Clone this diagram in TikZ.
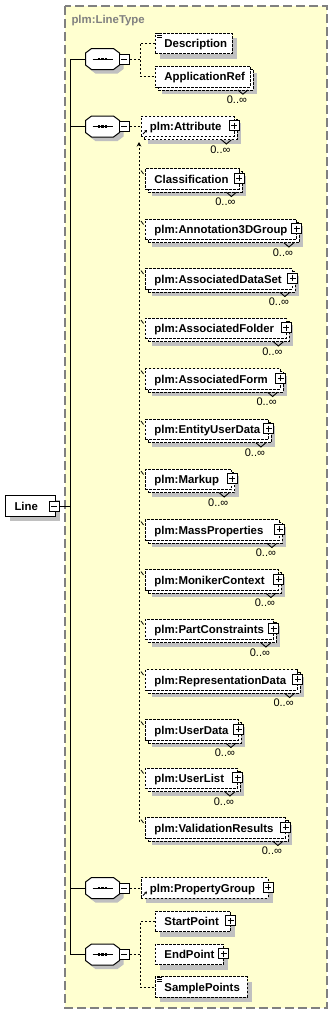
\documentclass[tikz,border=0pt]{standalone}
\usepackage{fontspec}
\setmainfont{Liberation Sans}
\usetikzlibrary{shadows,arrows.meta,calc}
\definecolor{bgyellow}{RGB}{255,255,208}
\definecolor{shadowgrey}{RGB}{192,192,192}
\definecolor{framegrey}{RGB}{128,128,128}
\newcommand\elfont{\fontsize{11.4bp}{13bp}\selectfont\bfseries}
\newcommand\multfont{\fontsize{11bp}{13bp}\selectfont}
\newcommand\eltext[2]{\makebox[#1bp][l]{\hspace{9bp}#2}}
\begin{document}
\begin{tikzpicture}[x=1bp,y=-1bp,line width=1bp,
  el/.style={draw=black, fill=white, line width=0.9bp, dash pattern=on 2.5bp off 1.5bp,
    minimum height=20.5bp, inner sep=0, anchor=west, font=\elfont, text height=8.2bp, text depth=0bp},
  single/.style={el, drop shadow={shadow xshift=5bp, shadow yshift=-5bp, fill=shadowgrey, opacity=1, draw=none}},
  multi/.style={el, drop shadow={shadow xshift=7bp, shadow yshift=-7bp, fill=shadowgrey, opacity=1, draw=none},
    copy shadow={shadow xshift=3bp, shadow yshift=-3bp, draw=black, fill=white, opacity=1, line width=0.9bp, dash pattern=on 2.5bp off 1.5bp}},
  linebox/.style={draw=black, fill=white, line width=1bp, solid, minimum height=21bp, inner sep=0, anchor=west,
    font=\elfont, text height=8.2bp, text depth=0bp,
    drop shadow={shadow xshift=4bp, shadow yshift=-4bp, fill=shadowgrey, opacity=1, draw=none}},
  plusbox/.style={draw=black, solid, fill=white, minimum size=10bp, inner sep=0, line width=0.9bp,
    path picture={\draw[solid,line width=0.9bp] ([yshift=-2bp]path picture bounding box.north) -- ([yshift=2bp]path picture bounding box.south)
      ([xshift=2bp]path picture bounding box.west) -- ([xshift=-2bp]path picture bounding box.east);}},
  minusbox/.style={draw=black, solid, fill=white, minimum size=10bp, inner sep=0, line width=0.9bp,
    path picture={\draw[solid,line width=0.9bp] ([xshift=2bp]path picture bounding box.west) -- ([xshift=-2bp]path picture bounding box.east);}},
  comp/.style={minimum width=33bp, minimum height=20bp, inner sep=0},
  mult/.style={font=\multfont, inner sep=0, text height=7.8bp, text depth=0bp},
  conn/.style={line width=0.9bp, dash pattern=on 2bp off 2bp},
  spineline/.style={line width=1bp, solid},
  notchline/.style={solid, line width=0.9bp},
  tickline/.style={solid, line width=0.8bp},
  iconline/.style={solid, line width=0.8bp}
]
\useasboundingbox (0,0) rectangle (333,1015);
% type box
\path[fill=bgyellow, draw=framegrey, line width=1.2bp, dash pattern=on 9bp off 4bp] (65,6) rectangle (327,1008);
\node[anchor=west, font=\elfont, text=framegrey, inner sep=0, text height=8.2bp, text depth=0bp] (ttl) at (71,19) {plm:LineType};

% root element
\node[linebox] (line) at (5,506) {\eltext{50}{Line}};
\node[minusbox] (lm) at (54,506) {};

% compositors
\node[comp] (s1) at (102.5,59) {};
\node[comp] (s2) at (102.5,126.5) {};
\node[comp] (s3) at (102.5,888) {};
\node[comp] (s4) at (102.5,954.5) {};
\foreach \s in {s1,s2,s3,s4}{
  \path[draw=black, fill=white, line width=1bp, drop shadow={shadow xshift=4bp,shadow yshift=-4bp,fill=shadowgrey,opacity=1,draw=none}]
   ([xshift=6bp]\s.north west) -- ([xshift=-6bp]\s.north east) -- ([yshift=-4.5bp]\s.north east) -- ([yshift=4.5bp]\s.south east)
   -- ([xshift=-6bp]\s.south east) -- ([xshift=6bp]\s.south west) -- ([yshift=4.5bp]\s.south west) -- ([yshift=-4.5bp]\s.north west) -- cycle;
  \draw[line width=1bp] ([xshift=-10bp]\s.center) -- ([xshift=10bp]\s.center);
  \foreach \dx in {-4.5,-1.1,2.3} \fill ([xshift=\dx bp, yshift=-1.25bp]\s.center) rectangle +(2.2bp,2.5bp);
}
\node[minusbox] (m1) at (124.3,59) {};
\node[minusbox] (m2) at (124.3,126.5) {};
\node[minusbox] (m3) at (124.3,888) {};
\node[minusbox] (m4) at (124.3,954.5) {};

% spine
\coordinate (sp) at (70,0);
\draw[spineline] (lm.east) -- (lm.east -| sp);
\draw[spineline] (s1.west) -- (s1.west -| sp) -- (s4.west -| sp) -- (s4.west);
\draw[spineline] (s2.west) -- (s2.west -| sp);
\draw[spineline] (s3.west) -- (s3.west -| sp);

% group 1
\node[single] (desc) at (155,43.3) {\eltext{77}{Description}};
\node[multi] (appref) at (155,76.7) {\eltext{95}{ApplicationRef}};
\coordinate (j1) at (140,59);
\draw[conn] (m1.east) -- (j1);
\draw[conn] (desc.west) -- (desc.west -| j1) -- (appref.west -| j1) -- (appref.west);

% group 2
\node[multi] (attr) at (140.5,126.5) {\eltext{93}{plm:Attribute}};
\foreach \nm/\txt/\w/\cy in {
  cls/Classification/93.5/179,
  annot/plm:Annotation3DGroup/151/229.5,
  adset/plm:AssociatedDataSet/147/279,
  afold/plm:AssociatedFolder/140.5/328.5,
  aform/plm:AssociatedForm/134.7/379,
  eud/plm:EntityUserData/123/429.5,
  mkp/plm:Markup/86.3/479.5,
  mass/plm:MassProperties/134/530,
  mon/plm:MonikerContext/133/580,
  pcon/plm:PartConstraints/128/629.5,
  rep/plm:RepresentationData/151.7/680,
  udata/plm:UserData/93/730,
  ulist/plm:UserList/92/778.5,
  valres/plm:ValidationResults/140/828}{
  \node[multi] (\nm) at (145,\cy) {\eltext{\w}{\txt}};
}
\draw[conn] (m2.east) -- (attr.west);
\coordinate (vtop) at (139,142);
\coordinate (vbot) at (139,822);
\draw[conn, -{Stealth[length=4.5bp,width=4.5bp]}] (vbot) -- (vtop);
\foreach \nm in {cls,annot,adset,afold,aform,eud,mkp,mass,mon,pcon,rep,udata,ulist,valres}{
  \draw[tickline] ([xshift=-4bp,yshift=8.5bp]\nm.west) -- ([xshift=-1.5bp,yshift=5bp]\nm.west);
}

% group 3
\node[single] (pg) at (140.5,888) {\eltext{127}{plm:PropertyGroup}};
\draw[conn] (m3.east) -- (pg.west);

% group 4
\node[single] (start) at (155,921.5) {\eltext{75}{StartPoint}};
\node[single] (endp) at (155,954.5) {\eltext{68}{EndPoint}};
\node[single] (sample) at (155,987) {\eltext{92}{SamplePoints}};
\coordinate (j4) at (140,954.5);
\draw[conn] (m4.east) -- (j4);
\draw[conn] (start.west) -- (start.west -| j4) -- (sample.west -| j4) -- (sample.west);

% multiplicity labels and notches
\foreach \nm in {appref,attr,cls,annot,adset,afold,aform,eud,mkp,mass,mon,pcon,rep,udata,ulist,valres}{
  \node[mult] (l\nm) at ([xshift=-14bp,yshift=-23bp]\nm.east) {0..∞};
  \draw[notchline] ([xshift=-13bp,yshift=-13.25bp]\nm.east) -- ([xshift=-8bp,yshift=-17.5bp]\nm.east) -- ([xshift=-3bp,yshift=-13.25bp]\nm.east);
}
% expand boxes
\foreach \nm in {attr,cls,annot,adset,afold,aform,eud,mkp,mass,mon,pcon,rep,udata,ulist,valres,pg,start,endp}{
  \node[plusbox] (p\nm) at ([yshift=1bp]\nm.east) {};
}
% documentation icons
\foreach \nm in {desc,sample}{
  \draw[iconline] ([xshift=2bp,yshift=-0.8bp]\nm.north west) -- +(5bp,0)
    ([xshift=2bp,yshift=-2.8bp]\nm.north west) -- +(5bp,0)
    ([xshift=2bp,yshift=-4.8bp]\nm.north west) -- +(5bp,0);
}
% reference arrows
\foreach \nm in {attr,pg}{
  \draw[solid, line width=0.9bp, -{Stealth[length=2.5bp,width=3bp]}] ([xshift=2.5bp,yshift=-7.5bp]\nm.west) -- ([xshift=6.5bp,yshift=-3.5bp]\nm.west);
}
\end{tikzpicture}
\end{document}
